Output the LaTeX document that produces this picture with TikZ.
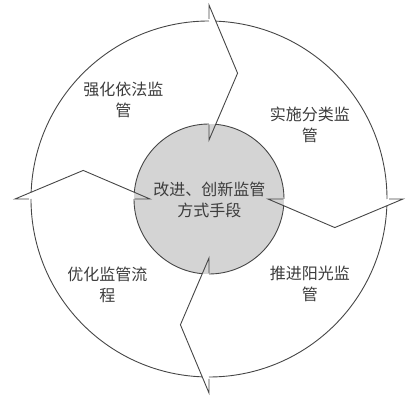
\documentclass[tikz,border=0pt]{standalone}
\usepackage{fontspec}
\newfontfamily\cjk{Noto Sans CJK SC}
\definecolor{ringline}{RGB}{70,70,70}
\definecolor{hubfill}{RGB}{212,212,212}
\definecolor{txt}{RGB}{60,60,60}
\begin{document}
\begin{tikzpicture}[x=1pt,y=1pt,
  ringstroke/.style={draw=ringline,line width=0.9pt,line join=miter},
  label/.style={font=\cjk\fontsize{16}{21}\selectfont,text=txt,align=center,inner sep=0pt}]
\useasboundingbox (-209,-202) rectangle (201,199);
% hub
\fill[hubfill] (0,0) circle[radius=75pt];
\foreach \t in {90,0,-90,180}{
  % outer arc from this divider's stub counter-clockwise to next divider's crossing
  \draw[ringstroke] (\t:178pt) arc[start angle=\t, end angle=\t+87.8, radius=178pt];
  % inner arc
  \draw[ringstroke] (\t:75pt) arc[start angle=\t, end angle=\t+84.8, radius=75pt];
  % chevron divider
  \draw[ringstroke] (\t:180pt) -- (\t:194pt) -- (\t-12.8:129pt) -- (\t:59pt) -- (\t:74pt);
}
\node[label] (hub) at (0.5,-1) {改进、创新监管\\方式手段};
\node[label] (a) at (-85.5,99) {强化依法监\\管};
\node[label] (b) at (101,74) {实施分类监\\管};
\node[label] (d) at (-101.5,-85.5) {优化监管流\\程};
\node[label] (e) at (101,-85) {推进阳光监\\管};
\end{tikzpicture}
\end{document}
